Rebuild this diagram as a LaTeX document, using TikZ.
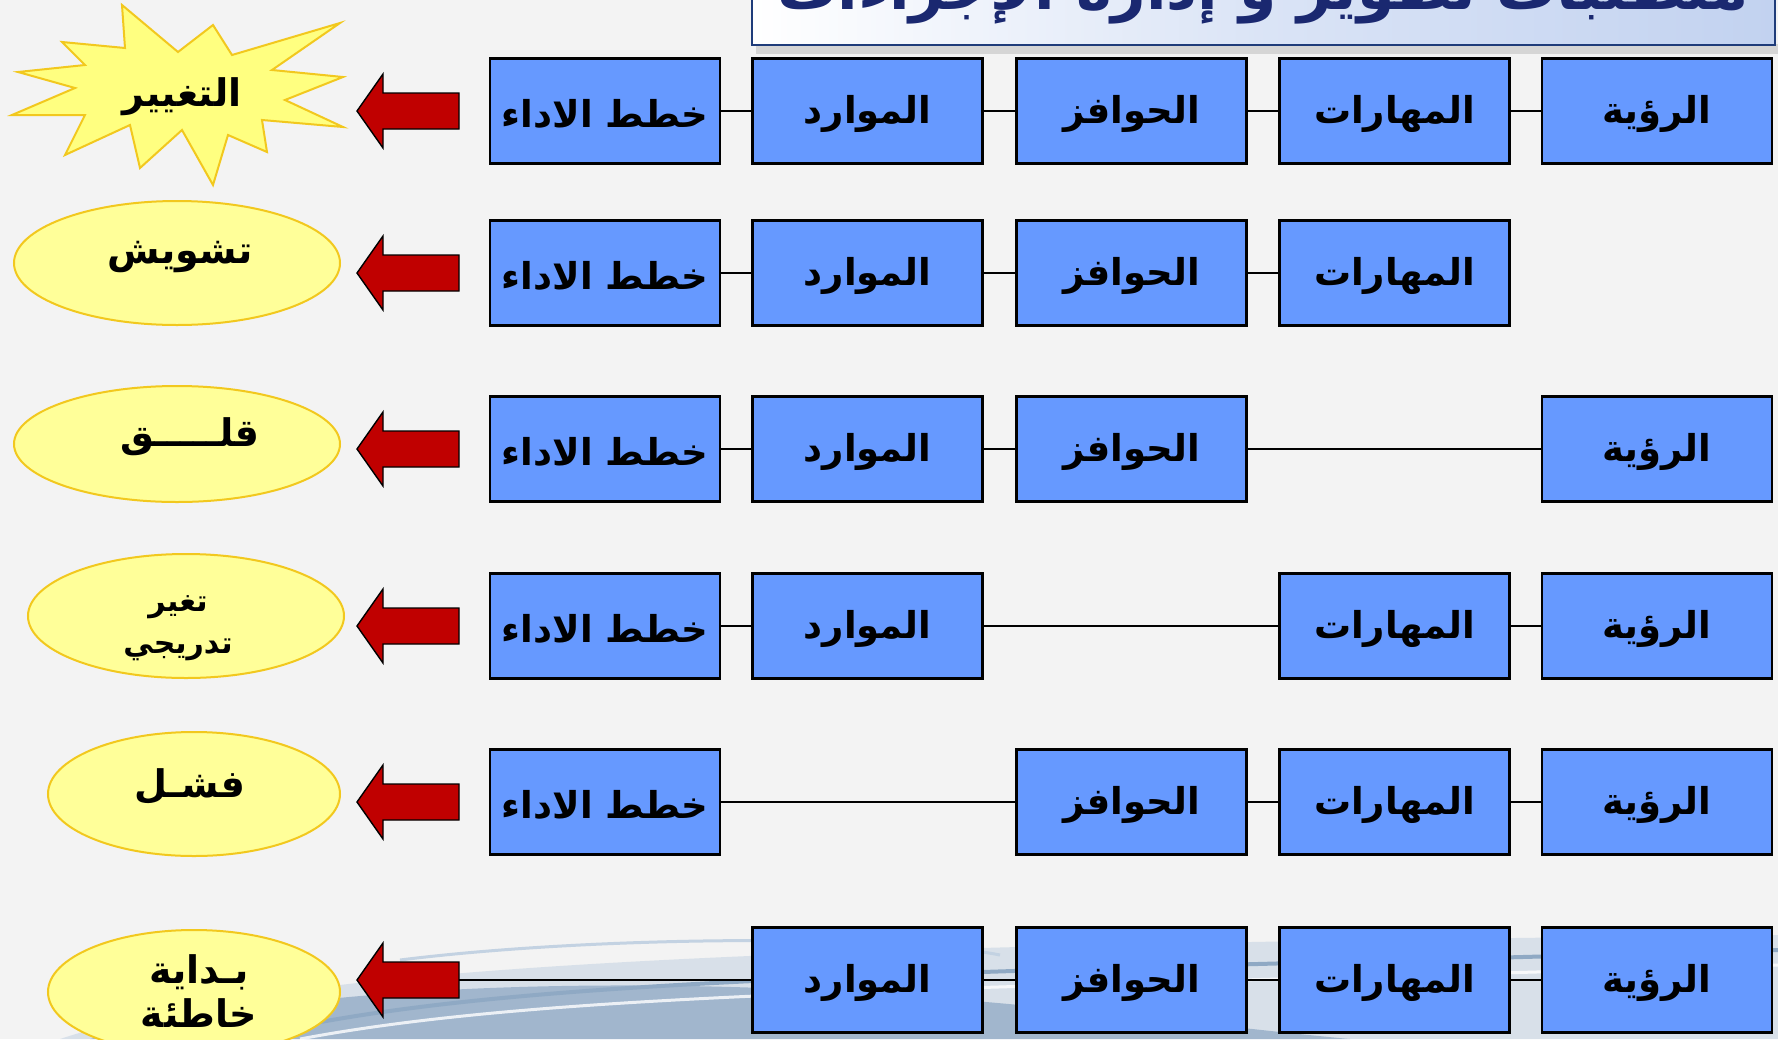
\documentclass[tikz,border=0pt]{standalone}
\usepackage{fontspec}
\newfontfamily\arabicfont[Script=Arabic]{DejaVu Sans}
\TeXXeTstate=1
\usetikzlibrary{shapes.geometric}
\definecolor{bgc}{HTML}{F3F3F3}
\definecolor{boxblue}{HTML}{6699FF}
\definecolor{ellfill}{HTML}{FFFF99}
\definecolor{ellline}{HTML}{F2C81E}
\definecolor{starfill}{HTML}{FFFF80}
\definecolor{arrred}{HTML}{C00000}
\definecolor{navy}{HTML}{1A2870}
\definecolor{titleline}{HTML}{1F3C7A}
\definecolor{swoosh}{HTML}{8FA9C4}
\definecolor{swooshlight}{HTML}{C3D2E2}
\definecolor{titleright}{HTML}{C2D2F0}
\begin{document}
\begin{tikzpicture}[x=1pt,y=-1pt,
  stepbox/.style={rectangle, fill=boxblue, draw=black, line width=2.2pt,
    minimum width=230pt, minimum height=105pt, inner sep=0pt},
  boxtext/.style={font=\arabicfont\bfseries\fontsize{37}{40}\selectfont, yshift=-3pt},
  oval/.style={ellipse, fill=ellfill, draw=ellline, line width=2pt, inner sep=0pt},
  ovaltext/.style={align=center, font=\arabicfont\bfseries\fontsize{38}{42}\selectfont},
  conn/.style={draw=black, line width=2.4pt},
  blockarrow/.style={fill=arrred, draw=black, line width=1.4pt, line join=miter}
]
\useasboundingbox (0,0) rectangle (1778,1039);
\fill[bgc] (0,0) rectangle (1778,1039);
% bottom decorative swooshes
\fill[swooshlight, opacity=0.55] (60,1039) .. controls (300,960) and (800,945) .. (1778,935) -- (1778,1039) -- cycle;
\fill[swoosh, opacity=0.75] (90,1039) .. controls (300,985) and (600,975) .. (900,995) .. controls (1100,1010) and (1250,1030) .. (1350,1039) -- cycle;
\draw[swoosh, line width=4pt] (240,1039) .. controls (500,975) and (900,975) .. (1778,950);
\draw[white, line width=3pt, opacity=0.8] (300,1039) .. controls (560,990) and (950,990) .. (1778,965);
\draw[swooshlight, line width=3pt] (400,960) .. controls (600,935) and (900,935) .. (1000,955);

% title
\fill[black, opacity=0.12] (756,44) rectangle (1778,54);
\node[rectangle, minimum width=1023pt, minimum height=58pt, inner sep=0pt,
  draw=titleline, line width=2.5pt, left color=white, right color=titleright,
  middle color=titleright!60!white] (tbox) at (1263.5,16) {};
\node[text=navy, font=\arabicfont\bfseries\fontsize{60}{62}\selectfont] (ttext) at (1263,-6)
  {\beginR متطلبات تطوير و إدارة الإجراءات\endR};

% star
\fill[starfill, draw=ellline, line width=2pt, line join=miter]
  (62,42) -- (125,48) -- (122,5) -- (178,52) -- (213,25) -- (232,55) -- (340,23)
  -- (272,70) -- (343,77) -- (285,100) -- (343,127) -- (262,120) -- (267,152)
  -- (228,135) -- (213,185) -- (182,130) -- (140,168) -- (130,125) -- (65,155)
  -- (85,115) -- (12,115) -- (75,88) -- (18,72) -- (85,65) -- cycle;
\node[ovaltext] (t1) at (182,97) {\beginR التغيير\endR};

% ellipses
\node[oval, minimum width=326pt, minimum height=124pt] (e2) at (177,263) {};
\node[ovaltext] (t2) at (180,257) {\beginR تشويش\endR};
\node[oval, minimum width=326pt, minimum height=116pt] (e3) at (177,444) {};
\node[ovaltext] (t3) at (190,437) {\beginR قلـــــق\endR};
\node[oval, minimum width=316pt, minimum height=124pt] (e4) at (186,616) {};
\node[ovaltext, font=\arabicfont\bfseries\fontsize{30}{42}\selectfont] (t4) at (178,628) {\beginR تغير\endR\\\beginR تدريجي\endR};
\node[oval, minimum width=292pt, minimum height=124pt] (e5) at (194,794) {};
\node[ovaltext] (t5) at (190,787) {\beginR فشـل\endR};
\node[oval, minimum width=292pt, minimum height=124pt] (e6) at (194,992) {};
\node[ovaltext, font=\arabicfont\bfseries\fontsize{38}{44}\selectfont] (t6) at (199,991) {\beginR بـداية\endR\\\beginR خاطئة\endR};

% block arrows
\foreach \cy/\n in {111/1,273/2,449/3,626/4,802/5,980/6}{
  \filldraw[blockarrow] (357,\cy) -- (383,\cy-37) -- (383,\cy-18) -- (459,\cy-18)
    -- (459,\cy+18) -- (383,\cy+18) -- (383,\cy+37) -- cycle;
  \coordinate (a\n) at (459,\cy);
}

% row 1
\node[stepbox] (b11) at (605,111) {};
\node[stepbox] (b12) at (867.5,111) {};
\node[stepbox] (b13) at (1131.5,111) {};
\node[stepbox] (b14) at (1394.5,111) {};
\node[stepbox] (b15) at (1657,111) {};
\draw[conn] (b11.east) -- (b12.west) (b12.east) -- (b13.west) (b13.east) -- (b14.west) (b14.east) -- (b15.west);
% row 2
\node[stepbox] (b21) at (605,273) {};
\node[stepbox] (b22) at (867.5,273) {};
\node[stepbox] (b23) at (1131.5,273) {};
\node[stepbox] (b24) at (1394.5,273) {};
\draw[conn] (b21.east) -- (b22.west) (b22.east) -- (b23.west) (b23.east) -- (b24.west);
% row 3
\node[stepbox] (b31) at (605,449) {};
\node[stepbox] (b32) at (867.5,449) {};
\node[stepbox] (b33) at (1131.5,449) {};
\node[stepbox] (b35) at (1657,449) {};
\draw[conn] (b31.east) -- (b32.west) (b32.east) -- (b33.west) (b33.east) -- (b35.west);
% row 4
\node[stepbox] (b41) at (605,626) {};
\node[stepbox] (b42) at (867.5,626) {};
\node[stepbox] (b44) at (1394.5,626) {};
\node[stepbox] (b45) at (1657,626) {};
\draw[conn] (b41.east) -- (b42.west) (b42.east) -- (b44.west) (b44.east) -- (b45.west);
% row 5
\node[stepbox] (b51) at (605,802) {};
\node[stepbox] (b53) at (1131.5,802) {};
\node[stepbox] (b54) at (1394.5,802) {};
\node[stepbox] (b55) at (1657,802) {};
\draw[conn] (b51.east) -- (b53.west) (b53.east) -- (b54.west) (b54.east) -- (b55.west);
% row 6
\node[stepbox] (b62) at (867.5,980) {};
\node[stepbox] (b63) at (1131.5,980) {};
\node[stepbox] (b64) at (1394.5,980) {};
\node[stepbox] (b65) at (1657,980) {};
\draw[conn] (a6) -- (b62.west) (b62.east) -- (b63.west) (b63.east) -- (b64.west) (b64.east) -- (b65.west);

% box labels
\foreach \r in {1,2,3,4,5}{\node[boxtext] at (b\r1) {\beginR خطط الاداء\endR};}
\foreach \r in {1,2,3,4,6}{\node[boxtext] at (b\r2) {\beginR الموارد\endR};}
\foreach \r in {1,2,3,5,6}{\node[boxtext] at (b\r3) {\beginR الحوافز\endR};}
\foreach \r in {1,2,4,5,6}{\node[boxtext] at (b\r4) {\beginR المهارات\endR};}
\foreach \r in {1,3,4,5,6}{\node[boxtext] at (b\r5) {\beginR الرؤية\endR};}
\end{tikzpicture}
\end{document}
